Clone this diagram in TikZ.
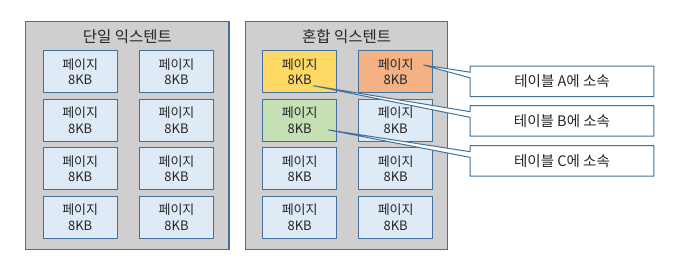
\documentclass[tikz,border=0pt]{standalone}
\usepackage{fontspec}
\setmainfont{Noto Sans CJK KR}
\usetikzlibrary{calc}
\definecolor{bordblue}{HTML}{41719C}
\definecolor{extgray}{HTML}{D0CECE}
\definecolor{pageblue}{HTML}{DEEBF7}
\definecolor{pageyellow}{HTML}{FFD966}
\definecolor{pageorange}{HTML}{F4B183}
\definecolor{pagegreen}{HTML}{C5E0B4}
\definecolor{txt}{HTML}{262626}
\tikzset{
  extbox/.style={draw=bordblue, fill=extgray, line width=1.3pt},
  pagebox/.style={draw=bordblue, fill=pageblue, line width=1pt, minimum width=74pt, minimum height=42pt, inner sep=0pt, align=center, font=\fontsize{13}{15.5}\selectfont, text=txt},
  calloutbox/.style={draw=bordblue, fill=white, line width=1pt, minimum width=182.6pt, minimum height=29.3pt, inner sep=0pt, font=\fontsize{14.5}{16}\selectfont, text=txt},
  wedge/.style={draw=bordblue, fill=white, line width=1pt, line join=miter},
  titletext/.style={font=\fontsize{15.5}{18}\selectfont, text=txt}
}
\begin{document}
\begin{tikzpicture}[x=1pt,y=-1pt]
\useasboundingbox (0,0) rectangle (675,265);
% extents
\draw[extbox] (25.7,21.3) rectangle (229,249.3);
\draw[extbox] (245.7,21.3) rectangle (447.7,249.3);
\node[titletext] (t1) at (127.3,36.7) {단일 익스텐트};
\node[titletext] (t2) at (346.7,36.7) {혼합 익스텐트};
% left pages
\foreach \r/\y in {1/71.7,2/120.1,3/168.6,4/217}{
  \node[pagebox] (L1\r) at (80.2,\y) {페이지\\8KB};
  \node[pagebox] (L2\r) at (176.5,\y) {페이지\\8KB};
}
% right pages
\node[pagebox, fill=pageyellow] (R11) at (299.7,71.7) {페이지\\8KB};
\node[pagebox, fill=pageorange] (R21) at (395.7,71.7) {페이지\\8KB};
\node[pagebox, fill=pagegreen] (R12) at (299.7,120.1) {페이지\\8KB};
\node[pagebox] (R22) at (395.7,120.1) {페이지\\8KB};
\foreach \r/\y in {3/168.6,4/217}{
  \node[pagebox] (R1\r) at (299.7,\y) {페이지\\8KB};
  \node[pagebox] (R2\r) at (395.7,\y) {페이지\\8KB};
}
% pointer tips
\coordinate (pA) at ($(R21.center)+(27.6,-6.7)$);
\coordinate (pB) at ($(R11.center)+(13.6,14)$);
\coordinate (pC) at ($(R12.center)+(28.6,9.8)$);
% callouts
\foreach \n/\y/\p/\lab in {cA/81.35/pA/A, cB/120.85/pB/B, cC/160.85/pC/C}{
  \node[calloutbox] (\n) at (562,\y) {};
  \draw[wedge] (\p) -- ($(\n.north west)+(0,6)$) -- (\n.north west) -- (\n.north east) -- (\n.south east) -- (\n.south west) -- ($(\n.north west)+(0,11.7)$) -- cycle;
  \node[calloutbox, draw=none, fill=none] (\n t) at (\n.center) {테이블 \lab{}에 소속};
}
\end{tikzpicture}
\end{document}
